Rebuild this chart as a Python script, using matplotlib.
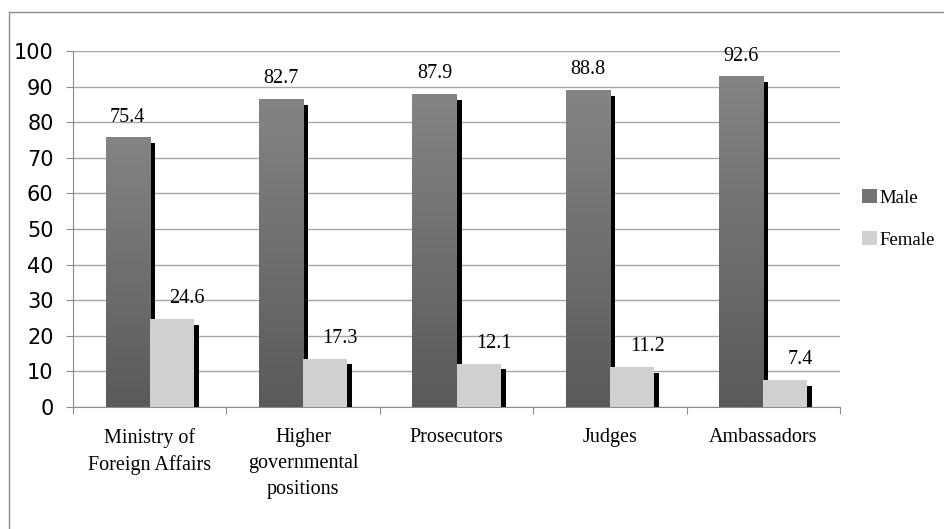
import numpy as np
import matplotlib
matplotlib.use("Agg")
import matplotlib.pyplot as plt
from matplotlib.colors import LinearSegmentedColormap
from matplotlib.patches import Patch
from matplotlib.lines import Line2D

categories = ["Ministry of\nForeign Affairs", "Higher\ngovernmental\npositions",
              "Prosecutors", "Judges", "Ambassadors"]
male_bar = [75.6, 86.5, 87.9, 89.0, 92.7]
female_bar = [24.7, 13.5, 12.1, 11.2, 7.5]
male_label = ["75.4", "82.7", "87.9", "88.8", "92.6"]
female_label = ["24.6", "17.3", "12.1", "11.2", "7.4"]
yticks = [0, 10, 20, 30, 40, 50, 60, 70, 80, 90, 100]

W, H, DPI = 944, 529, 100
fig = plt.figure(figsize=(W / DPI, H / DPI), dpi=DPI)
ax = fig.add_axes([73 / W, 1 - 407 / H, (840 - 73) / W, (407 - 51) / H])

serif = "Liberation Serif"
bw = 0.287
x = np.arange(len(categories))
px_x = (840 - 73) / 5.0          # pixels per category
px_y = (407 - 51) / 100.0        # pixels per unit
sh_dx = 5.0 / px_x
sh_dy = 5.5 / px_y

grad = LinearSegmentedColormap.from_list("g", ["#5a5a5a", "#848484"])
gimg = np.linspace(0, 1, 256).reshape(-1, 1)

for i in range(len(categories)):
    mx = x[i] - bw
    fx = x[i]
    m = male_bar[i]
    f = female_bar[i]
    # shadows
    ax.bar(mx + sh_dx, max(m - sh_dy, 0), width=bw, align="edge", color="black", zorder=2)
    ax.bar(fx + sh_dx, max(f - sh_dy, 0), width=bw, align="edge", color="black", zorder=4)
    # male bar gradient
    ax.imshow(gimg, cmap=grad, origin="lower", aspect="auto",
              extent=[mx, mx + bw, 0, m], zorder=3, interpolation="bilinear")
    # female bar
    ax.bar(fx, f, width=bw, align="edge", color="#d0d0d0", zorder=5)
    # labels
    ax.annotate(male_label[i], (mx + bw / 2, m), xytext=(0, 11.5), textcoords="offset points",
                ha="center", va="baseline", fontsize=14.5, family=serif, color="black", zorder=6)
    ax.annotate(female_label[i], (fx + bw / 2, f), xytext=(11, 11.5), textcoords="offset points",
                ha="center", va="baseline", fontsize=14.5, family=serif, color="black", zorder=6)

ax.set_xlim(-0.5, 4.5)
ax.set_ylim(0, 100)
ax.set_yticks(yticks)
ax.set_yticklabels([str(v) for v in yticks], fontsize=15, family="DejaVu Sans")
ax.set_xticks(np.arange(-0.5, 5, 1.0))
ax.set_xticklabels([])
ax.set_xticks(x, minor=True)
ax.set_xticklabels(categories, minor=True, fontsize=14.5, family=serif, linespacing=1.5)
ax.tick_params(axis="x", which="minor", length=0, pad=15)
ax.tick_params(axis="x", which="major", length=5, color="#8c8c8c", direction="out")
ax.tick_params(axis="y", length=5, color="#8c8c8c", direction="out", pad=9)
ax.yaxis.grid(True, color="#a6a6a6", linewidth=1.0, zorder=0)
ax.set_axisbelow(True)
for s in ["top", "right"]:
    ax.spines[s].set_visible(False)
ax.spines["left"].set_color("#8c8c8c")
ax.spines["bottom"].set_color("#8c8c8c")
ax.spines["left"].set_zorder(1)

handles = [Patch(facecolor="#747474", edgecolor="none"), Patch(facecolor="#d0d0d0", edgecolor="none")]
fig.legend(handles, ["Male", "Female"], loc="upper left", bbox_to_anchor=(845 / W, 1 - 172 / H),
           frameon=False, prop={"family": serif, "size": 13.5}, handlelength=0.8, handleheight=0.8,
           handletextpad=0.15, labelspacing=1.3)

# outer chart frame (left and top edges visible)
fig.add_artist(Line2D([9 / W, 9 / W], [0, 1 - 12 / H], color="#8c8c8c", lw=1.0, transform=fig.transFigure))
fig.add_artist(Line2D([9 / W, 1], [1 - 12 / H, 1 - 12 / H], color="#8c8c8c", lw=1.0, transform=fig.transFigure))

fig.savefig("out.png", dpi=DPI)
